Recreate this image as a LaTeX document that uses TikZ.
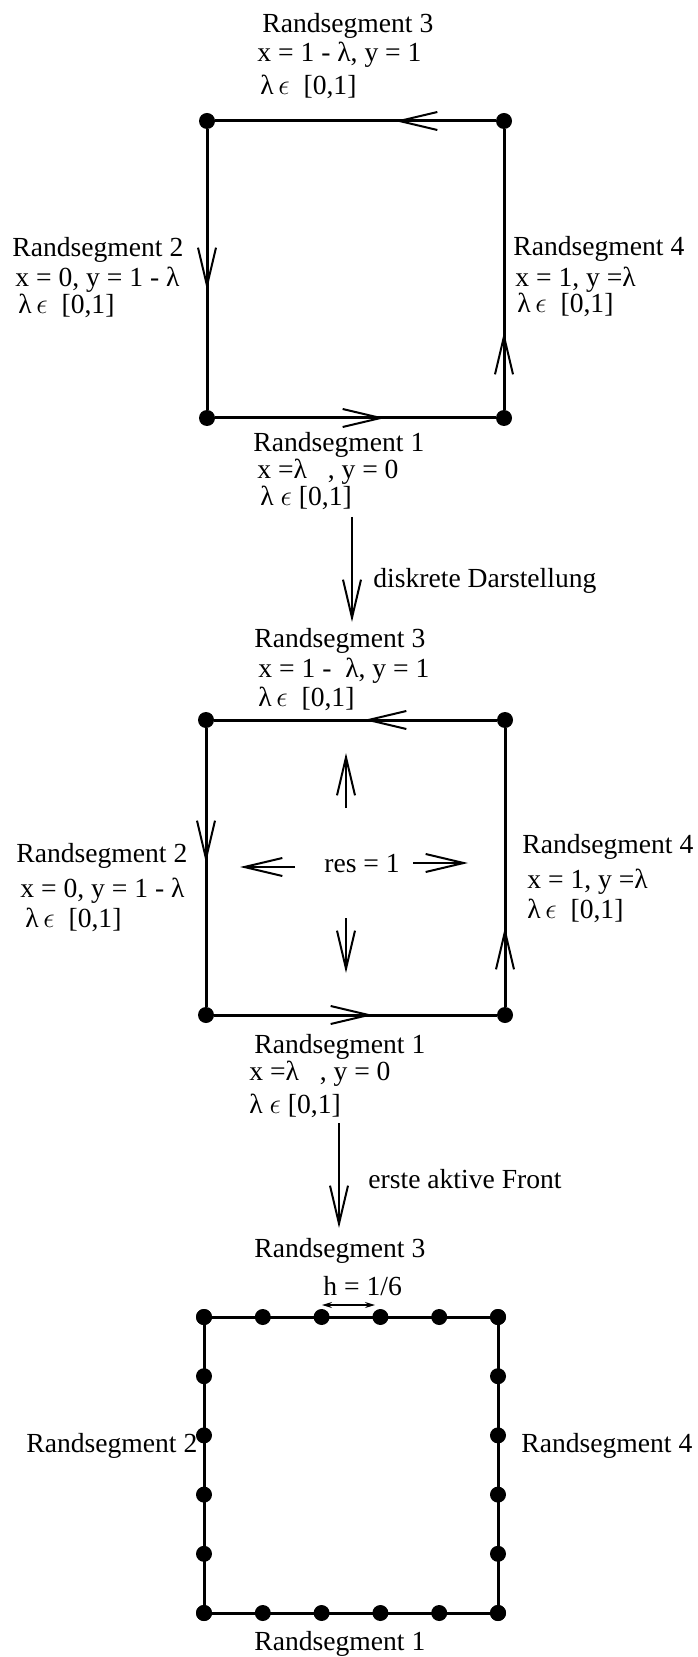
\documentclass[tikz,border=0pt]{standalone}
\usepackage{fontspec}
\setmainfont{Liberation Serif}
\usetikzlibrary{arrows.meta}
\tikzset{
  rand/.style={line width=1.5pt},                  % boundary of the square
  pfeil/.style={line width=1pt,-{Straight Barb[length=19pt,width=9pt,line width=1pt]}},
  punkt/.style={circle,fill,inner sep=0pt,minimum size=8pt},
  txt/.style={anchor=base west,inner sep=0pt,font=\fontsize{13.8}{16}\selectfont}
}

\begin{document}
\begin{tikzpicture}[x=0.5pt,y=-0.5pt]
                    \useasboundingbox (0,0) rectangle (697,1657);
                    % continuous boundary
                    \node[punkt] (a1) at (207,418) {};
                    \node[punkt] (a2) at (504,418) {};
                    \node[punkt] (a3) at (504,121) {};
                    \node[punkt] (a4) at (207,121) {};
                    \draw[rand] (a1) -- (a2) -- (a3) -- (a4) -- (a1);
                    \draw[pfeil] (348,418) -- (385,418);
                    \draw[pfeil] (504,368) -- (504,332);
                    \draw[pfeil] (432,121) -- (395,121);
                    \draw[pfeil] (207,252) -- (207,290);
                    \node[txt] (a3t) at (262,33) {Randsegment 3};
                    \node[txt] (a3x) at (257,62) {x = 1 - λ, y = 1};
                    \node[txt] (a3l) at (260,95) {λ\,$\epsilon$\ \ [0,1]};
                    \node[txt] (a2t) at (12,257) {Randsegment 2};
                    \node[txt] (a2x) at (15,287) {x = 0, y = 1 - λ};
                    \node[txt] (a2l) at (18,314) {λ\,$\epsilon$\ \ [0,1]};
                    \node[txt] (a4t) at (513,256) {Randsegment 4};
                    \node[txt] (a4x) at (515,287) {x = 1, y =λ};
                    \node[txt] (a4l) at (517,313) {λ\,$\epsilon$\ \ [0,1]};
                    \node[txt] (a1t) at (253,452) {Randsegment 1};
                    \node[txt] (a1x) at (257,479) {x =λ\ \ \ , y = 0};
                    \node[txt] (a1l) at (260,506) {λ $\epsilon$\ [0,1]};
                    % first step
                    \coordinate (v1) at (352,517);
                    \coordinate (v2) at (352,622);
                    \draw[pfeil] (v1) -- (v2);
                    \node[txt] (v12) at (373,587) {diskrete Darstellung};
                    % discrete boundary
                    \node[punkt] (b1) at (206,1015) {};
                    \node[punkt] (b2) at (505,1015) {};
                    \node[punkt] (b3) at (505,720) {};
                    \node[punkt] (b4) at (206,720) {};
                    \draw[rand] (b1) -- (b2) -- (b3) -- (b4) -- (b1);
                    \draw[pfeil] (337,1015) -- (373,1015);
                    \draw[pfeil] (505,962) -- (505,927);
                    \draw[pfeil] (400,720) -- (364,720);
                    \draw[pfeil] (206,827) -- (206,863);
                    \node[txt] (res) at (324,872) {res = 1};
                    \draw[pfeil] (346,808) -- (346,753);
                    \draw[pfeil] (295,867) -- (240,867);
                    \draw[pfeil] (413,863) -- (468,863);
                    \draw[pfeil] (346,918) -- (346,973);
                    \node[txt] (b3t) at (254,647) {Randsegment 3};
                    \node[txt] (b3x) at (258,677) {x = 1 -\ \ λ, y = 1};
                    \node[txt] (b3l) at (258,706) {λ\,$\epsilon$\ \ [0,1]};
                    \node[txt] (b2t) at (16,862) {Randsegment 2};
                    \node[txt] (b2x) at (20,897) {x = 0, y = 1 - λ};
                    \node[txt] (b2l) at (25,927) {λ\,$\epsilon$\ \ [0,1]};
                    \node[txt] (b4t) at (522,853) {Randsegment 4};
                    \node[txt] (b4x) at (527,888) {x = 1, y =λ};
                    \node[txt] (b4l) at (527,918) {λ\,$\epsilon$\ \ [0,1]};
                    \node[txt] (b1t) at (254,1053) {Randsegment 1};
                    \node[txt] (b1x) at (249,1080) {x =λ\ \ \ , y = 0};
                    \node[txt] (b1l) at (249,1113) {λ $\epsilon$\ [0,1]};
                    % second step
                    \coordinate (w1) at (339,1123);
                    \coordinate (w2) at (339,1228);
                    \draw[pfeil] (w1) -- (w2);
                    \node[txt] (w12) at (368,1188) {erste aktive Front};
                    % first active front, h = 1/6
                    \draw[rand] (204,1317) rectangle (498,1613);
                    \foreach \i in {0,...,5} {
                        \node[punkt] (o\i) at (204+58.8*\i,1317) {};
                        \node[punkt] (u\i) at (204+58.8*\i,1613) {};
                        \node[punkt] (l\i) at (204,1317+59.2*\i) {};
                        \node[punkt] (r\i) at (498,1317+59.2*\i) {};
                    }
                    \coordinate (h1) at (322,1305);
                    \coordinate (h2) at (375,1305);
                    \draw[line width=0.6pt,{Stealth[length=5pt,width=3pt]}-{Stealth[length=5pt,width=3pt]}] (h1) -- (h2);
                    \node[txt] (h) at (323,1295) {h = 1/6};
                    \node[txt] (c3t) at (254,1257) {Randsegment 3};
                    \node[txt] (c2t) at (26,1452) {Randsegment 2};
                    \node[txt] (c4t) at (521,1452) {Randsegment 4};
                    \node[txt] (c1t) at (254,1650) {Randsegment 1};
                \end{tikzpicture}
\end{document}
